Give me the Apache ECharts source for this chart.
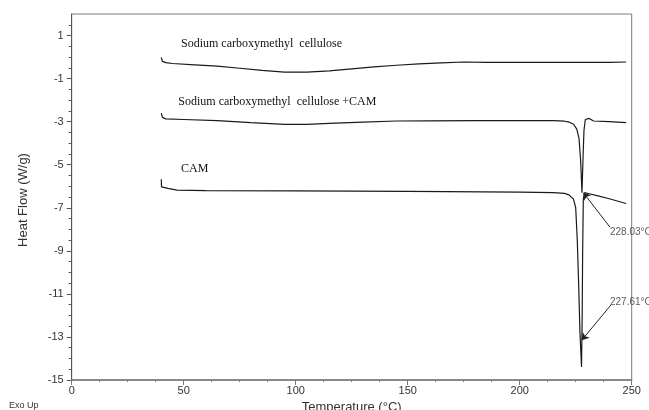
<!DOCTYPE html>
<html>
<head>
<meta charset="utf-8">
<script src="https://cdn.jsdelivr.net/npm/echarts@6/dist/echarts.min.js"></script>
<style>
  html, body { margin: 0; padding: 0; background: #fff; }
  #chart { width: 649px; height: 410px; }
</style>
</head>
<body>
<div id="chart"></div>
<script>
// DSC curves, [temperature °C, heat flow W/g]
const cmc = [
  [40, -0.02], [40.5, -0.2], [42, -0.26], [45, -0.3], [55, -0.36], [65, -0.42],
  [75, -0.52], [85, -0.62], [95, -0.7], [105, -0.7], [115, -0.64], [125, -0.55],
  [135, -0.46], [145, -0.38], [155, -0.32], [165, -0.27], [175, -0.23], [185, -0.25],
  [200, -0.25], [220, -0.25], [240, -0.25], [247.5, -0.23]
];
const cmcCam = [
  [40, -2.6], [40.5, -2.8], [42, -2.87], [50, -2.9], [65, -2.95], [80, -3.05],
  [95, -3.13], [105, -3.13], [115, -3.08], [130, -3.02], [145, -2.97], [160, -2.96],
  [180, -2.95], [200, -2.95], [215, -2.95], [220, -2.98], [222, -3.02], [224, -3.12],
  [225.5, -3.35], [226.5, -3.8], [227.2, -4.8], [227.8, -6.3], [228.3, -4.6], [228.7, -3.4],
  [229.3, -2.9], [230, -2.82], [231, -2.85], [233, -2.97], [240, -3.0], [247.5, -3.05]
];
const cam = [
  [40, -5.68], [40.1, -6.03], [43, -6.1], [47, -6.18], [60, -6.2], [100, -6.22],
  [150, -6.24], [200, -6.27], [215, -6.3], [220, -6.33], [222, -6.4], [224, -6.6],
  [225, -7.0], [225.7, -8.5], [226.3, -10.5], [226.9, -12.8], [227.6, -14.4], [227.9, -12],
  [228.1, -9], [228.4, -6.6], [229, -6.3], [231, -6.35], [235, -6.45], [240, -6.58],
  [247.5, -6.8]
];

const seriesNames = ['Sodium carboxymethyl  cellulose', 'Sodium carboxymethyl  cellulose +CAM', 'CAM'];
const nameAnchors = [[48.8, 0.62], [47.6, -2.08], [48.8, -5.2]];

const peakLabels = ['228.03°C', '227.61°C'];
const peakLabelAt = [[240.3, -8.12], [240.3, -11.37]];
const arrowFrom = [[240.3, -7.9], [240.7, -11.52]];
const arrowTo = [[228.4, -6.3], [227.7, -13.15]];

const yTicks = [-15, -13, -11, -9, -7, -5, -3, -1, 1];
const yMinorTicks = [];
yTicks.forEach(t => {
  [0.5, 1, 1.5].forEach(d => { if (t + d < 2) yMinorTicks.push(t + d); });
});

const textColor = '#333';
const axisColor = '#7a7a7a';
const lineColor = '#1a1a1a';

const chart = echarts.init(document.getElementById('chart'));

const nameLabel = (i) => ({
  symbol: 'circle',
  symbolSize: 0,
  silent: true,
  label: {
    show: true,
    position: 'right',
    distance: 0,
    formatter: seriesNames[i],
    fontFamily: 'Liberation Serif',
    fontSize: 12,
    color: '#111'
  },
  data: [{ coord: nameAnchors[i] }]
});

const option = {
  animation: false,
  grid: {
    left: 71.7, right: 17.3, top: 14, bottom: 30,
    outerBoundsMode: 'none',
    containLabel: false,
    show: true, borderColor: axisColor, borderWidth: 1
  },
  xAxis: {
    type: 'value',
    min: 0, max: 250, interval: 50,
    name: 'Temperature (°C)',
    nameLocation: 'middle',
    nameGap: 21,
    nameTextStyle: { fontFamily: 'Liberation Sans', fontSize: 13, color: textColor },
    axisLine: { show: true, onZero: false, lineStyle: { color: axisColor, width: 1.5 } },
    axisTick: { show: true, length: 5, lineStyle: { color: axisColor } },
    minorTick: { show: true, splitNumber: 4, length: 2, lineStyle: { color: axisColor } },
    axisLabel: { fontFamily: 'Liberation Sans', fontSize: 11, color: textColor, margin: 5 },
    splitLine: { show: false }
  },
  yAxis: [
    {
      type: 'value',
      position: 'left',
      min: -15, max: 2,
      name: 'Heat Flow (W/g)',
      nameLocation: 'middle',
      nameGap: 42,
      nameTextStyle: { fontFamily: 'Liberation Sans', fontSize: 13, color: textColor, padding: [0, 6, 0, 0] },
      axisLine: { show: true, onZero: false, lineStyle: { color: '#555', width: 1 } },
      axisTick: { show: true, length: 5, customValues: yTicks, lineStyle: { color: '#555' } },
      axisLabel: { fontFamily: 'Liberation Sans', fontSize: 11, color: textColor, margin: 8, customValues: yTicks },
      splitLine: { show: false }
    },
    {
      type: 'value',
      position: 'left',
      min: -15, max: 2,
      axisLine: { show: false, onZero: false },
      axisTick: { show: true, length: 3, customValues: yMinorTicks, lineStyle: { color: '#555' } },
      axisLabel: { show: false },
      splitLine: { show: false }
    }
  ],
  series: [
    {
      name: seriesNames[0], type: 'line', data: cmc, showSymbol: false,
      lineStyle: { color: lineColor, width: 1.2 },
      markPoint: nameLabel(0)
    },
    {
      name: seriesNames[1], type: 'line', data: cmcCam, showSymbol: false,
      lineStyle: { color: lineColor, width: 1.2 },
      markPoint: nameLabel(1)
    },
    {
      name: seriesNames[2], type: 'line', data: cam, showSymbol: false,
      lineStyle: { color: lineColor, width: 1.2 },
      markPoint: nameLabel(2),
      markLine: {
        silent: true,
        symbol: ['none', 'arrow'],
        symbolSize: 7,
        lineStyle: { color: '#222', width: 1, type: 'solid' },
        label: { show: false },
        data: arrowFrom.map((p, i) => [{ coord: p }, { coord: arrowTo[i] }])
      }
    },
    {
      type: 'scatter',
      data: peakLabelAt,
      symbolSize: 0,
      silent: true,
      label: {
        show: true,
        position: 'right',
        distance: 0,
        formatter: (p) => peakLabels[p.dataIndex],
        fontFamily: 'Liberation Sans',
        fontSize: 10,
        color: textColor
      }
    }
  ],
  graphic: [
    {
      type: 'text', left: 9, top: 401,
      style: { text: 'Exo Up', font: '9px "Liberation Sans"', fill: textColor }
    }
  ]
};

chart.setOption(option);
</script>
</body>
</html>
